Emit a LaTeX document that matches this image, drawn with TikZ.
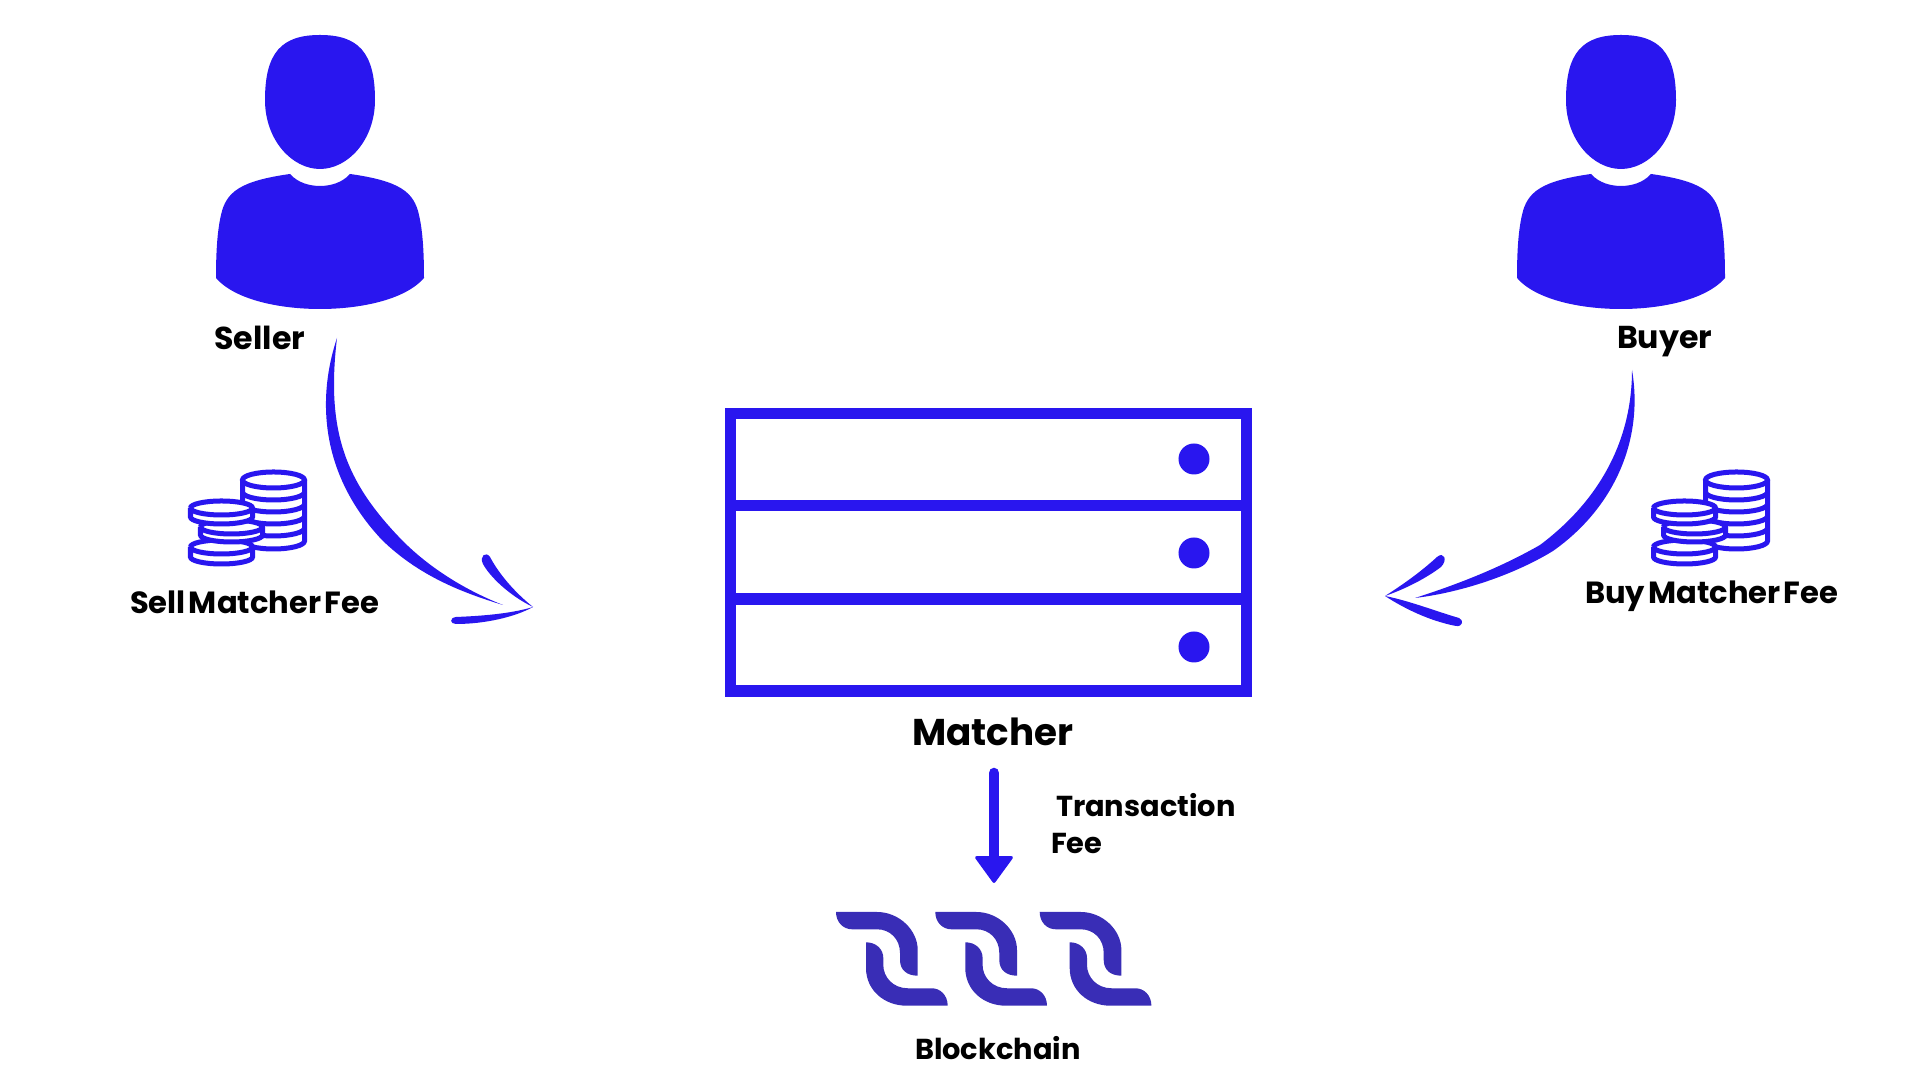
\documentclass[tikz,border=0pt]{standalone}
\usepackage{fontspec}
\setmainfont{Poppins}[WordSpace=0.5]
\usepackage{tikz}
\usetikzlibrary{positioning,arrows.meta}
\definecolor{brandblue}{HTML}{2916EF}
\definecolor{chainblue}{HTML}{392DB6}

\begin{document}
\begin{tikzpicture}[
      x=0.01cm, y=-0.01cm,
      lbl/.style={inner sep=0pt, outer sep=0pt, anchor=base west, font=\fontsize{9}{11}\selectfont\bfseries, text=black},
      feeLbl/.style={lbl, font=\fontsize{8.7}{11}\selectfont\bfseries},
      smallLbl/.style={lbl, font=\fontsize{8.2}{11}\selectfont\bfseries},
      bigLbl/.style={lbl, font=\fontsize{10.6}{13}\selectfont\bfseries},
      rackrow/.style={draw=brandblue, line width=0.115cm, minimum width=5.16cm, outer sep=0pt, inner sep=0pt},
      rackdot/.style={circle, fill=brandblue, minimum size=0.31cm, inner sep=0pt},
      brush/.style={fill=brandblue, draw=none},
      feearrow/.style={draw=brandblue, line width=0.105cm, line cap=round, -{Triangle[round, length=0.28cm, width=0.4cm, line width=0.03cm]}},
      coin/.style={draw=brandblue, line width=0.05cm, fill=white},
      pics/person/.style={code={
        \fill[brandblue] (320,35) .. controls (358,35) and (375,52) .. (375,100)
          .. controls (375,140) and (348,169) .. (320,169)
          .. controls (292,169) and (265,140) .. (265,100)
          .. controls (265,52) and (282,35) .. (320,35) -- cycle;
        \fill[brandblue] (290,174) .. controls (298,183) and (310,186) .. (320,186)
          .. controls (330,186) and (342,183) .. (350,174)
          .. controls (400,181) and (414,192) .. (419,215)
          .. controls (423,232) and (424,255) .. (424,278)
          .. controls (405,300) and (360,309) .. (320,309)
          .. controls (280,309) and (235,300) .. (216,278)
          .. controls (216,255) and (217,232) .. (221,215)
          .. controls (226,192) and (240,181) .. (290,174) -- cycle;
      }},
      pics/coins/.style={code={
        \draw[coin] (242.5,480) -- (242.5,541) arc[start angle=180, end angle=360, x radius=0.31cm, y radius=0.08cm] -- (304.5,480);
        \foreach \yy in {492,504,516,528} {
          \draw[coin, fill=none] (242.5,\yy) arc[start angle=180, end angle=360, x radius=0.31cm, y radius=0.08cm];
        }
        \draw[coin] (273.5,480) ellipse [x radius=0.31cm, y radius=0.08cm];
        \draw[coin] (190.5,547) -- (190.5,557) arc[start angle=180, end angle=360, x radius=0.31cm, y radius=0.07cm] -- (252.5,547) arc[start angle=0, end angle=180, x radius=0.31cm, y radius=0.07cm];
        \draw[coin, fill=none] (190.5,547) arc[start angle=180, end angle=360, x radius=0.31cm, y radius=0.07cm];
        \draw[coin] (200.5,527) -- (200.5,535) arc[start angle=180, end angle=360, x radius=0.31cm, y radius=0.07cm] -- (262.5,527) arc[start angle=0, end angle=180, x radius=0.31cm, y radius=0.07cm];
        \draw[coin, fill=none] (200.5,527) arc[start angle=180, end angle=360, x radius=0.31cm, y radius=0.07cm];
        \draw[coin] (190.5,508) -- (190.5,517) arc[start angle=180, end angle=360, x radius=0.31cm, y radius=0.07cm] -- (252.5,508) arc[start angle=0, end angle=180, x radius=0.31cm, y radius=0.07cm];
        \draw[coin, fill=none] (190.5,508) arc[start angle=180, end angle=360, x radius=0.31cm, y radius=0.07cm];
      }},
      pics/chainlink/.style={code={
        \fill[chainblue] (836,912) -- (877,912) .. controls (899,912) and (917.7,930) .. (917.7,950)
          -- (917.7,975.7) .. controls (907,975.7) and (900,970) .. (900,960)
          -- (900,953) .. controls (900,939) and (890,929.3) .. (877,929.3)
          -- (852,929.3) .. controls (843,929.3) and (836,922) .. (836,912) -- cycle;
        \fill[chainblue] (866,942.3) -- (866,968) .. controls (866,990) and (884,1005.7) .. (906.7,1005.7)
          -- (947.7,1005.7) .. controls (947.7,995) and (940,988.3) .. (932,988.3)
          -- (908,988.3) .. controls (893,988.3) and (883.3,977) .. (883.3,965)
          -- (883.3,958) .. controls (883.3,949) and (876,942.3) .. (866,942.3) -- cycle;
      }},
    ]
      \useasboundingbox (0,0) rectangle (1920,1080);

      \pic (seller) at (0,0) {person};
      \pic (buyer) at (1301,0) {person};
      \node[lbl] (sellerLbl) at (214.5,350) {Seller};
      \node[lbl] (buyerLbl) at (1617,349) {Buyer};

      \pic (sellFee) at (0,0) {coins};
      \pic (buyFee) at (1463,0) {coins};
      \node[feeLbl] (sellFeeLbl) at (130,614) {Sell Matcher Fee};
      \node[feeLbl] (buyFeeLbl) at (1585,604) {Buy Matcher Fee};

      \node[rackrow, minimum height=0.92cm] (rackA) at (988.5,459.5) {};
      \node[rackrow, minimum height=0.935cm, below=0pt of rackA] (rackB) {};
      \node[rackrow, minimum height=0.92cm, below=0pt of rackB] (rackC) {};
      \node[rackdot] (dotA) at (1194,459) {};
      \node[rackdot] (dotB) at (1194,553) {};
      \node[rackdot] (dotC) at (1194,647) {};
      \node[bigLbl] (matcherLbl) at (912,746) {Matcher};

      % hand drawn arrows
      \coordinate (sellFrom) at (337,338);
      \coordinate (sellTo) at (503,605);
      \coordinate (sellTip) at (533,607);
      \fill[brush] (sellFrom) .. controls (318,395) and (318,472) .. (382,540)
        .. controls (418,575) and (460,592) .. (sellTo)
        .. controls (470,592) and (430,570) .. (398,536)
        .. controls (345,480) and (326,430) .. (sellFrom) -- cycle;
      \fill[brush] (sellTip) .. controls (510,596) and (490,577) .. (483,564)
        .. controls (479,556) and (486,551) .. (490,557)
        .. controls (498,572) and (512,590) .. (sellTip) -- cycle;
      \fill[brush] (sellTip) .. controls (510,614) and (480,616) .. (456,617)
        .. controls (449,618) and (450,624) .. (456,624)
        .. controls (485,624) and (515,617) .. (sellTip) -- cycle;

      \coordinate (buyFrom) at (1632,370);
      \coordinate (buyTo) at (1415,598);
      \coordinate (buyTip) at (1385,596);
      \fill[brush] (buyFrom) .. controls (1644,440) and (1614,508) .. (1553,551)
        .. controls (1517,573) and (1465,592) .. (buyTo)
        .. controls (1465,582) and (1505,565) .. (1540,545)
        .. controls (1600,500) and (1632,440) .. (buyFrom) -- cycle;
      \fill[brush] (buyTip) .. controls (1410,580) and (1425,568) .. (1437,557)
        .. controls (1444,551) and (1448,560) .. (1441,567)
        .. controls (1425,579) and (1405,589) .. (buyTip) -- cycle;
      \fill[brush] (buyTip) .. controls (1410,601) and (1435,611) .. (1459,618)
        .. controls (1464,620) and (1463,627) .. (1456,626)
        .. controls (1430,621) and (1405,609) .. (buyTip) -- cycle;

      \coordinate (feeFrom) at (994,773);
      \coordinate (feeTo) at (994,883);
      \draw[feearrow] (feeFrom) -- (feeTo);
      \node[smallLbl] (feeLblA) at (1056,817) {Transaction};
      \node[smallLbl] (feeLblB) at (1051,854) {Fee};

      \foreach \dx/\nm in {0/chainA,99.3/chainB,203.7/chainC} {
        \pic (\nm) at (\dx,0) {chainlink};
      }
      \node[smallLbl] (blockchainLbl) at (915,1060) {Blockchain};
    \end{tikzpicture}
\end{document}
